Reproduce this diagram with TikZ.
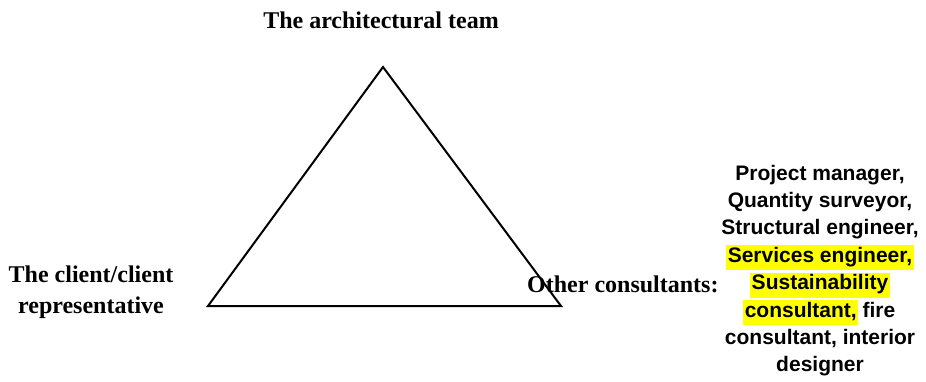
\documentclass[tikz,border=0pt]{standalone}
\usepackage{fontspec}
\setmainfont{Liberation Serif}
\newfontfamily\arialf{Liberation Sans}
\definecolor{hlyellow}{RGB}{255,255,0}
\newcommand\hlt[1]{{\setlength{\fboxsep}{0pt}\kern-1.5pt\colorbox{hlyellow}{\rule[-8pt]{0pt}{25pt}\kern1.5pt#1\kern1.5pt}\kern-1.5pt}}
\begin{document}
\begin{tikzpicture}[x=1pt,y=-1pt,
  lbl/.style={font=\fontsize{24}{31}\selectfont\bfseries, inner sep=0pt, anchor=base},
  lst/.style={font=\arialf\fontsize{21}{27.4}\selectfont\bfseries, inner sep=0pt, anchor=base},
  tri/.style={draw=black, line width=2pt, line join=miter}]
\useasboundingbox (0,0) rectangle (926,381);
\coordinate (top) at (383,67);
\coordinate (left) at (208,306);
\coordinate (right) at (561,306);
\draw[tri] (top) -- (left) -- (right) -- cycle;
\node[lbl] (arch) at (381,28) {The architectural team};
\node[lbl] (client1) at (91,282) {The client/client};
\node[lbl] (client2) at (91,313) {representative};
\node[lbl, anchor=base west] (other) at (527,292) {Other consultants:};
\node[lst] (l1) at (820,180) {Project manager,};
\node[lst] (l2) at (820,207.4) {Quantity surveyor,};
\node[lst] (l3) at (820,234.8) {Structural engineer,};
\node[lst] (l4) at (820,262.2) {\hlt{Services engineer,}};
\node[lst] (l5) at (820,289.6) {\hlt{Sustainability}};
\node[lst] (l6) at (820,317) {\hlt{consultant,} fire};
\node[lst] (l7) at (820,344.4) {consultant, interior};
\node[lst] (l8) at (820,371.8) {designer};
\end{tikzpicture}
\end{document}
